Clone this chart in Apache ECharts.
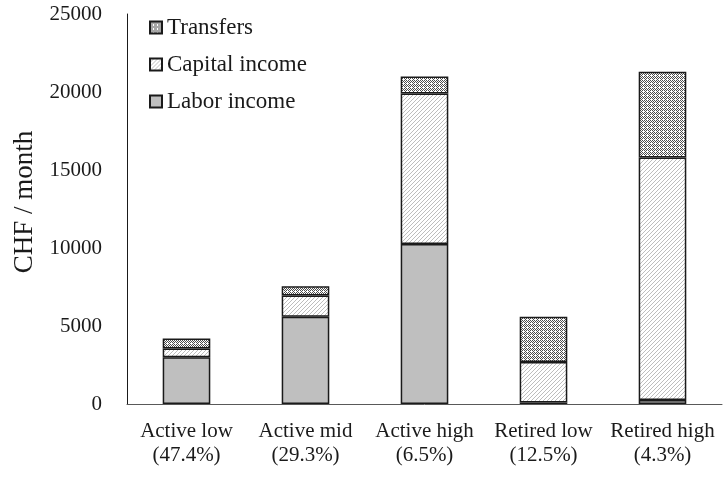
<!DOCTYPE html>
<html>
<head>
<meta charset="utf-8">
<script src="https://cdn.jsdelivr.net/npm/echarts@6/dist/echarts.min.js"></script>
<style>
  html, body { margin: 0; padding: 0; background: #fff; }
  #main { width: 723px; height: 479px; }
</style>
</head>
<body>
<div id="main"></div>
<script>
// data
const categories = ['Active low\n(47.4%)', 'Active mid\n(29.3%)', 'Active high\n(6.5%)', 'Retired low\n(12.5%)', 'Retired high\n(4.3%)'];
const laborIncome = [3000, 5600, 10250, 100, 250];
const capitalIncome = [550, 1350, 9650, 2600, 15550];
const transfers = [650, 600, 1100, 2900, 5500];
const yTicks = [0, 5000, 10000, 15000, 20000, 25000];

// hatch patterns
function makeTile(w, h, bg, fg, pixels) {
  const c = document.createElement('canvas');
  c.width = w; c.height = h;
  const ctx = c.getContext('2d');
  ctx.fillStyle = bg;
  ctx.fillRect(0, 0, w, h);
  ctx.fillStyle = fg;
  pixels.forEach(p => ctx.fillRect(p[0], p[1], 1, 1));
  return c;
}

// "/" diagonal lines, light
const capitalTile = makeTile(4, 4, '#ffffff', '#bdbdbd', [[3, 0], [2, 1], [1, 2], [0, 3]]);
// dense mosaic dots
const transferTile = makeTile(4, 4, '#ffffff', '#4d4d4d', [
  [0, 0], [2, 0], [1, 1], [3, 1], [0, 2], [2, 2], [1, 3]
]);

const font = 'Liberation Serif';

const myChart = echarts.init(document.getElementById('main'));

let option = {
  animation: false,
  textStyle: { fontFamily: font },
  grid: {
    left: 127,
    right: 1,
    top: 14,
    bottom: 75
  },
  legend: {
    orient: 'vertical',
    left: 144,
    top: 11,
    icon: 'rect',
    itemWidth: 12,
    itemHeight: 12,
    itemGap: 14,
    data: ['Transfers', 'Capital income', 'Labor income'],
    textStyle: { fontFamily: font, fontSize: 23, color: '#1a1a1a' }
  },
  xAxis: {
    type: 'category',
    data: categories,
    axisLine: { lineStyle: { color: '#595959', width: 1 } },
    axisTick: { show: false },
    axisLabel: {
      fontFamily: font,
      fontSize: 21,
      color: '#1a1a1a',
      lineHeight: 24,
      margin: 15,
      interval: 0
    }
  },
  yAxis: {
    type: 'value',
    min: yTicks[0],
    max: yTicks[yTicks.length - 1],
    interval: 5000,
    name: 'CHF / month',
    nameLocation: 'middle',
    nameGap: 89,
    nameTextStyle: { fontFamily: font, fontSize: 27, color: '#1a1a1a', padding: [0, 0, 0, 14] },
    axisLine: { show: true, lineStyle: { color: '#1a1a1a', width: 1 } },
    axisTick: { show: false },
    splitLine: { show: false },
    axisLabel: {
      fontFamily: font,
      fontSize: 21,
      color: '#1a1a1a',
      margin: 25,
      formatter: function (v) { return String(v); }
    }
  },
  series: [
    {
      name: 'Labor income',
      type: 'bar',
      stack: 'total',
      barWidth: '40%',
      data: laborIncome,
      itemStyle: { color: '#bfbfbf', borderColor: '#1a1a1a', borderWidth: 1.5 }
    },
    {
      name: 'Capital income',
      type: 'bar',
      stack: 'total',
      barWidth: '40%',
      data: capitalIncome,
      itemStyle: { color: { image: capitalTile, repeat: 'repeat' }, borderColor: '#1a1a1a', borderWidth: 1.5 }
    },
    {
      name: 'Transfers',
      type: 'bar',
      stack: 'total',
      barWidth: '40%',
      data: transfers,
      itemStyle: { color: { image: transferTile, repeat: 'repeat' }, borderColor: '#1a1a1a', borderWidth: 1.5 }
    }
  ]
};

myChart.setOption(option);
</script>
</body>
</html>
